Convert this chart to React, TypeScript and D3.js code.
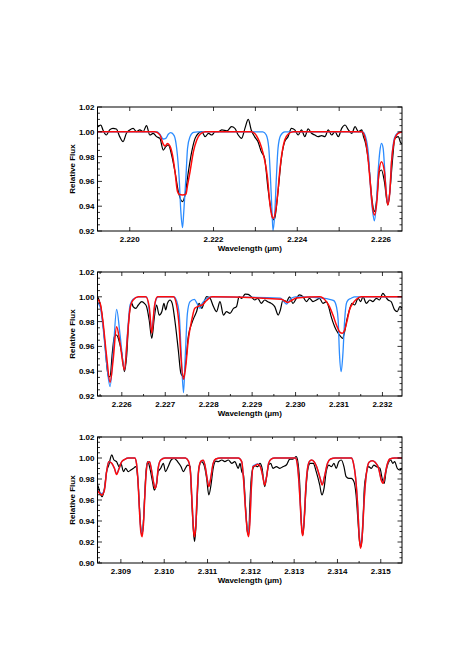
import React from "react";
import * as d3 from "d3";

type Pt = [number, number];

const width = 457;
const height = 646;
const frameLeft = 97.5;
const frameRight = 402;
const font = "'Liberation Sans', Arial, Helvetica, sans-serif";

// ---------------- panel 1 : 2.2192 - 2.2265 um ----------------
const xTicks1 = [2.22, 2.222, 2.224, 2.226];
const yTicks1 = [0.92, 0.94, 0.96, 0.98, 1.0, 1.02];

const observed1: Pt[] = [
  [2.21918, 1.003], [2.21924, 1.0041], [2.21931, 1.0055], [2.21936, 1.0015], [2.21944, 0.9974],
  [2.21952, 1.0015], [2.2196, 1.0028], [2.21968, 1.0023], [2.21976, 0.9961], [2.21984, 0.9921],
  [2.21992, 0.9988], [2.22, 1.0015], [2.22008, 1.0028], [2.22016, 1.0001], [2.22024, 1.0015],
  [2.22032, 1.0001], [2.2204, 1.005], [2.22048, 0.9974], [2.22056, 0.9988], [2.22064, 0.9961],
  [2.22072, 0.9947], [2.2208, 0.9853], [2.22086, 0.988], [2.22092, 0.9894], [2.221, 0.9813],
  [2.22108, 0.9679], [2.22116, 0.9518], [2.22126, 0.9437], [2.22132, 0.9491], [2.2214, 0.9679],
  [2.22148, 0.984], [2.22156, 0.9947], [2.22164, 0.9988], [2.22172, 1.0001], [2.2218, 0.9961],
  [2.22188, 0.9988], [2.22196, 0.9974], [2.22204, 1.0001], [2.22212, 1.0001], [2.2222, 1.0015],
  [2.22232, 1.0007], [2.22243, 1.0041], [2.22251, 1.0028], [2.22259, 0.9974], [2.22267, 0.9947],
  [2.22275, 1.0028], [2.22283, 1.01], [2.2229, 1.0015], [2.22298, 0.9961], [2.22306, 0.9921],
  [2.22314, 0.984], [2.22322, 0.9786], [2.2233, 0.9544], [2.22338, 0.9356], [2.22342, 0.929],
  [2.22346, 0.9302], [2.22354, 0.9518], [2.22362, 0.9786], [2.2237, 0.9921], [2.22378, 0.9961],
  [2.22386, 1.0028], [2.22394, 1.0015], [2.22402, 0.9974], [2.2241, 1.0015], [2.22418, 0.9961],
  [2.22426, 1.0023], [2.22434, 0.9988], [2.22442, 0.9974], [2.2245, 0.9961], [2.22458, 0.9969],
  [2.22466, 0.9961], [2.22474, 1.0015], [2.22482, 0.9974], [2.2249, 1.0001], [2.22498, 0.9961],
  [2.22506, 1.0028], [2.22514, 1.0055], [2.22522, 1.0015], [2.2253, 0.9988], [2.22538, 1.0041],
  [2.22546, 1.0001], [2.22554, 1.0015], [2.22558, 0.9961], [2.22562, 0.9921], [2.2257, 0.9759],
  [2.22578, 0.9464], [2.22584, 0.9356], [2.2259, 0.9464], [2.22596, 0.9679], [2.22601, 0.9692],
  [2.22608, 0.9598], [2.22616, 0.941], [2.22621, 0.9518], [2.22627, 0.9759], [2.22633, 0.9947],
  [2.22641, 0.9961], [2.22648, 0.9907], [2.22653, 0.9921],
];

const blue1: Pt[] = [
  [2.2192, 1.0], [2.22066, 1.0], [2.22074, 0.9969], [2.2208, 0.9942], [2.22086, 0.9947],
  [2.22092, 0.998], [2.22098, 0.9993], [2.22106, 0.9969], [2.22112, 0.9867], [2.22118, 0.9625],
  [2.22122, 0.9356], [2.22126, 0.9227], [2.22129, 0.9356], [2.22134, 0.9625], [2.22138, 0.9867],
  [2.22144, 0.9961], [2.22152, 0.9996], [2.22162, 1.0], [2.22318, 1.0], [2.22326, 0.9974],
  [2.22332, 0.9867], [2.22336, 0.9625], [2.2234, 0.9329], [2.22342, 0.9205], [2.22346, 0.9329],
  [2.2235, 0.9625], [2.22354, 0.9867], [2.2236, 0.9969], [2.2237, 1.0], [2.22556, 1.0],
  [2.22563, 0.9961], [2.2257, 0.9813], [2.22575, 0.9544], [2.2258, 0.9356], [2.22584, 0.9281],
  [2.22588, 0.9383], [2.22593, 0.9679], [2.22597, 0.984], [2.22601, 0.9907], [2.22605, 0.9867],
  [2.22609, 0.9679], [2.22613, 0.9491], [2.22616, 0.9424], [2.22621, 0.9518], [2.22625, 0.9759],
  [2.2263, 0.9921], [2.22635, 0.9974], [2.22643, 0.9995], [2.22655, 1.0],
];

const red1: Pt[] = [
  [2.2192, 1.0], [2.2206, 1.0], [2.22072, 0.9975], [2.2208, 0.99], [2.22084, 0.9885],
  [2.2209, 0.9905], [2.22096, 0.9885], [2.22102, 0.9813], [2.22108, 0.9679], [2.22114, 0.9518],
  [2.22118, 0.9496], [2.22126, 0.9491], [2.22134, 0.9496], [2.22138, 0.9571], [2.22144, 0.9679],
  [2.22152, 0.984], [2.2216, 0.9934], [2.22168, 0.998], [2.2218, 1.0], [2.2229, 1.0],
  [2.22298, 0.9988], [2.22306, 0.9947], [2.22314, 0.988], [2.22322, 0.9773], [2.22329, 0.9625],
  [2.22334, 0.9437], [2.2234, 0.9316], [2.22343, 0.9302], [2.22348, 0.9356], [2.22353, 0.9491],
  [2.22358, 0.9679], [2.22364, 0.984], [2.2237, 0.9934], [2.22378, 0.998], [2.2239, 1.0],
  [2.22554, 1.0], [2.22562, 0.9947], [2.22568, 0.9813], [2.22574, 0.9598], [2.22579, 0.941],
  [2.22584, 0.9329], [2.2259, 0.9437], [2.22595, 0.9679], [2.22601, 0.9759], [2.22608, 0.9679],
  [2.22612, 0.9518], [2.22616, 0.941], [2.22621, 0.9518], [2.22625, 0.9759], [2.22631, 0.9921],
  [2.22637, 0.9974], [2.22645, 0.9995], [2.22655, 1.0],
];

// ---------------- panel 2 : 2.2254 - 2.2325 um ----------------
const xTicks2 = [2.226, 2.227, 2.228, 2.229, 2.23, 2.231, 2.232];
const yTicks2 = [0.92, 0.94, 0.96, 0.98, 1.0, 1.02];

const observed2: Pt[] = [
  [2.22538, 1.0015], [2.22546, 0.9988], [2.22554, 0.9867], [2.22561, 0.9625], [2.22569, 0.9356],
  [2.22573, 0.9356], [2.22578, 0.9544], [2.22583, 0.9679], [2.22588, 0.9692], [2.22593, 0.9652],
  [2.226, 0.9544], [2.22606, 0.9397], [2.22611, 0.9518], [2.22616, 0.9813], [2.22623, 0.9947],
  [2.22626, 0.9921], [2.22632, 0.9907], [2.22638, 0.9934], [2.22646, 0.9961], [2.22652, 0.9947],
  [2.22657, 0.9921], [2.22663, 0.9813], [2.22669, 0.9665], [2.22675, 0.984], [2.2268, 0.9934],
  [2.22686, 0.9853], [2.22692, 0.988], [2.22697, 0.9947], [2.22701, 0.9894], [2.22705, 0.9947],
  [2.22711, 0.9974], [2.22716, 0.9947], [2.22722, 0.9813], [2.2273, 0.9571], [2.22736, 0.9383],
  [2.22742, 0.9356], [2.22747, 0.9464], [2.22753, 0.9679], [2.22761, 0.9786], [2.22767, 0.984],
  [2.22772, 0.988], [2.22778, 0.9947], [2.22784, 0.9907], [2.22791, 0.9974], [2.22795, 1.0001],
  [2.22803, 0.9988], [2.22811, 0.9921], [2.22818, 0.988], [2.22826, 0.9961], [2.22834, 0.9853],
  [2.22841, 0.988], [2.22849, 0.9867], [2.22857, 0.9907], [2.22864, 0.9921], [2.2287, 1.0001],
  [2.22876, 0.9988], [2.22884, 1.0022], [2.22891, 1.002], [2.22898, 1.0], [2.22906, 0.9974],
  [2.22913, 0.9988], [2.22921, 0.9947], [2.22929, 0.9974], [2.22936, 0.996], [2.22944, 0.9947],
  [2.22952, 0.9921], [2.2296, 0.9853], [2.22965, 0.9894], [2.22971, 0.9974], [2.22979, 0.9961],
  [2.22986, 1.0], [2.22994, 0.9947], [2.23002, 0.9988], [2.23009, 1.0015], [2.23017, 1.0001],
  [2.23025, 0.9961], [2.23032, 0.9988], [2.2304, 0.9961], [2.23048, 0.9974], [2.23055, 0.9988],
  [2.23063, 0.9947], [2.23071, 0.9961], [2.23076, 0.9921], [2.23082, 0.984], [2.2309, 0.9759],
  [2.23098, 0.9706], [2.23104, 0.9679], [2.23108, 0.9665], [2.23113, 0.9719], [2.23118, 0.9813],
  [2.23124, 0.9894], [2.2313, 0.9947], [2.23136, 0.9934], [2.23144, 0.9988], [2.2315, 0.9961],
  [2.23155, 1.0001], [2.23163, 0.9947], [2.23171, 0.9974], [2.23178, 0.9961], [2.23186, 0.9988],
  [2.23193, 0.9974], [2.23201, 1.0028], [2.23207, 1.0001], [2.23213, 0.9974], [2.2322, 0.9961],
  [2.23228, 0.9894], [2.23234, 0.988], [2.2324, 0.9921], [2.23246, 0.9907],
];

const blue2: Pt[] = [
  [2.22538, 0.997], [2.2255, 0.992], [2.22557, 0.9746], [2.22565, 0.9464], [2.22573, 0.9276],
  [2.2258, 0.9544], [2.22588, 0.9899], [2.22596, 0.9692], [2.22606, 0.941], [2.22613, 0.9706],
  [2.22619, 0.9934], [2.22626, 0.998], [2.22638, 1.0], [2.22657, 1.0], [2.22665, 0.984],
  [2.22669, 0.972], [2.22673, 0.984], [2.22678, 0.997], [2.22684, 1.0], [2.2272, 1.0],
  [2.22726, 0.9969], [2.22732, 0.9867], [2.22736, 0.96], [2.22742, 0.9227], [2.22746, 0.9518],
  [2.22751, 0.9867], [2.22757, 0.9961], [2.22767, 0.998], [2.22773, 0.9947], [2.2278, 0.9907],
  [2.22785, 0.9947], [2.22793, 0.998], [2.22803, 1.0], [2.22965, 0.999], [2.22973, 0.9961],
  [2.22979, 0.9942], [2.22984, 0.9961], [2.2299, 0.9988], [2.23, 1.0], [2.23067, 0.9988],
  [2.23078, 0.998], [2.23088, 0.9969], [2.23094, 0.9921], [2.23098, 0.9813], [2.23101, 0.9544],
  [2.23105, 0.9397], [2.23109, 0.9544], [2.23113, 0.9813], [2.23117, 0.9947], [2.23121, 0.9974],
  [2.23128, 0.9988], [2.23136, 1.0], [2.2325, 1.0],
];

const red2: Pt[] = [
  [2.22538, 1.0], [2.2255, 0.9947], [2.22557, 0.9786], [2.22565, 0.9518], [2.22573, 0.931],
  [2.2258, 0.9491], [2.22588, 0.9759], [2.22596, 0.9625], [2.22606, 0.941], [2.22613, 0.9679],
  [2.22619, 0.9907], [2.22626, 0.9974], [2.22638, 1.0], [2.22655, 1.0], [2.22663, 0.9921],
  [2.22669, 0.9706], [2.22675, 0.9921], [2.22682, 1.0], [2.22719, 1.0], [2.22726, 0.9934],
  [2.22732, 0.9759], [2.22736, 0.9518], [2.22742, 0.9335], [2.22747, 0.9437], [2.22753, 0.9652],
  [2.22761, 0.9813], [2.22768, 0.9907], [2.22778, 0.9926], [2.22785, 0.9934], [2.22795, 0.997],
  [2.22807, 1.0], [2.22967, 0.998], [2.22975, 0.9966], [2.22982, 0.9955], [2.2299, 0.9969],
  [2.23002, 0.999], [2.23055, 1.0], [2.23071, 0.9961], [2.23078, 0.9921], [2.23086, 0.9853],
  [2.23094, 0.9773], [2.23101, 0.9719], [2.23108, 0.9706], [2.23113, 0.9732], [2.23119, 0.9813],
  [2.23124, 0.9894], [2.23132, 0.9947], [2.2314, 0.998], [2.23151, 1.0], [2.2325, 1.0],
];

// ---------------- panel 3 : 2.3085 - 2.3155 um ----------------
const xTicks3 = [2.309, 2.31, 2.311, 2.312, 2.313, 2.314, 2.315];
const yTicks3 = [0.9, 0.92, 0.94, 0.96, 0.98, 1.0, 1.02];

const observed3: Pt[] = [
  [2.3084, 0.9711], [2.30846, 0.9743], [2.30852, 0.9663], [2.30857, 0.9632], [2.30862, 0.9711],
  [2.30867, 0.987], [2.30872, 0.9933], [2.30879, 1.0029], [2.30884, 0.9981], [2.3089, 0.9965],
  [2.30896, 0.9917], [2.309, 0.9949], [2.30906, 0.987], [2.30911, 0.9902], [2.30917, 0.987],
  [2.30923, 0.9886], [2.30929, 0.9902], [2.30934, 0.9917], [2.30939, 0.9806], [2.30943, 0.952],
  [2.30946, 0.933], [2.30949, 0.9267], [2.30952, 0.9394], [2.30955, 0.9648], [2.30958, 0.987],
  [2.30962, 0.9965], [2.30967, 0.9902], [2.30973, 0.9775], [2.30977, 0.9695], [2.30982, 0.9743],
  [2.30986, 0.987], [2.30992, 0.9902], [2.30998, 0.9949], [2.31003, 0.987], [2.31009, 0.9917],
  [2.31016, 0.9981], [2.31023, 0.9997], [2.31031, 0.9965], [2.31039, 0.9917], [2.31044, 0.987],
  [2.31049, 0.9902], [2.31054, 0.9933], [2.3106, 0.9917], [2.31063, 0.9648], [2.31067, 0.933],
  [2.3107, 0.9203], [2.31073, 0.933], [2.31076, 0.9584], [2.3108, 0.9902], [2.31086, 0.9965],
  [2.31092, 0.9933], [2.31098, 0.9806], [2.31103, 0.9648], [2.31108, 0.9743], [2.31113, 0.9902],
  [2.31119, 0.9971], [2.31125, 0.9965], [2.31133, 0.9981], [2.3114, 0.9965], [2.31148, 0.9981],
  [2.31156, 0.9949], [2.31163, 0.9965], [2.31171, 0.9902], [2.31175, 0.9949], [2.31179, 0.987],
  [2.31183, 0.9838], [2.31188, 0.952], [2.31192, 0.9298], [2.31195, 0.9267], [2.31198, 0.9584],
  [2.31201, 0.9806], [2.31205, 0.9902], [2.3121, 0.9927], [2.31216, 0.9917], [2.31221, 0.9949],
  [2.31226, 0.9902], [2.31232, 0.9727], [2.31237, 0.9838], [2.31241, 0.9933], [2.31246, 0.9949],
  [2.31251, 0.9902], [2.31259, 0.9917], [2.31267, 0.9902], [2.31274, 0.9917], [2.31282, 0.9933],
  [2.3129, 0.999], [2.31297, 0.999], [2.31305, 1.0013], [2.31309, 0.9949], [2.31313, 0.9743],
  [2.31316, 0.9425], [2.3132, 0.9267], [2.31324, 0.9457], [2.31328, 0.9743], [2.31332, 0.9902],
  [2.31337, 0.9949], [2.31344, 0.9949], [2.31351, 0.987], [2.31359, 0.9743], [2.31364, 0.9648],
  [2.31369, 0.9711], [2.31374, 0.987], [2.3138, 0.9933], [2.31386, 0.9917], [2.31392, 0.9949],
  [2.31397, 0.9902], [2.31403, 0.9965], [2.31409, 0.9981], [2.31415, 0.9917], [2.3142, 0.9822],
  [2.31426, 0.9806], [2.31432, 0.9806], [2.31438, 0.9775], [2.31443, 0.9648], [2.31447, 0.9425],
  [2.31451, 0.9203], [2.31454, 0.9155], [2.31458, 0.9298], [2.31462, 0.9711], [2.31466, 0.9838],
  [2.31472, 0.9917], [2.31478, 0.9902], [2.31484, 0.9933], [2.3149, 0.9917], [2.31498, 0.9902],
  [2.31504, 0.979], [2.31508, 0.9759], [2.31512, 0.987], [2.31517, 0.9949], [2.31523, 0.9981],
  [2.31528, 0.9949], [2.31532, 0.9965], [2.31538, 0.9902], [2.31543, 0.9886], [2.3155, 0.9902],
];

// both models of panel 3 share one wavelength grid
const modelWave3 = [
  2.3084, 2.30848, 2.30856, 2.30862, 2.30867, 2.30872, 2.30879, 2.30885, 2.3089, 2.30896,
  2.30902, 2.30909, 2.30917, 2.30932, 2.30936, 2.3094, 2.30943, 2.30946, 2.30949, 2.30952,
  2.30955, 2.30958, 2.30962, 2.30966, 2.3097, 2.30975, 2.30979, 2.30983, 2.30986, 2.30992,
  2.31002, 2.31049, 2.31056, 2.31061, 2.31065, 2.31068, 2.3107, 2.31073, 2.31076, 2.3108,
  2.31085, 2.3109, 2.31094, 2.31099, 2.31103, 2.31108, 2.31113, 2.31119, 2.3113, 2.31171,
  2.31179, 2.31183, 2.31188, 2.31192, 2.31195, 2.31198, 2.31201, 2.31205, 2.3121, 2.31216,
  2.31222, 2.31227, 2.31232, 2.31237, 2.31241, 2.31247, 2.31255, 2.31303, 2.31307, 2.31311,
  2.31315, 2.31318, 2.3132, 2.31323, 2.31326, 2.3133, 2.31335, 2.3134, 2.31346, 2.31352,
  2.31359, 2.31365, 2.3137, 2.31377, 2.31384, 2.31395, 2.31432, 2.31437, 2.31442, 2.31447,
  2.3145, 2.31453, 2.31456, 2.31459, 2.31463, 2.31468, 2.31473, 2.3148, 2.31487, 2.31495,
  2.31501, 2.31505, 2.31509, 2.31515, 2.31521, 2.31532, 2.31555,
];
const redFlux3 = [
  0.9743, 0.9679, 0.9648, 0.9695, 0.987, 0.9965, 0.9949, 0.9902, 0.9844, 0.9902,
  0.9965, 0.9987, 1.0, 1.0, 0.9949, 0.9743, 0.9489, 0.9298, 0.9251, 0.9362,
  0.9616, 0.9838, 0.9959, 0.9965, 0.9902, 0.9775, 0.9711, 0.9775, 0.9902, 0.9981,
  1.0, 1.0, 0.997, 0.9838, 0.952, 0.9298, 0.9251, 0.9362, 0.9648, 0.9902,
  0.997, 0.9978, 0.9933, 0.9806, 0.9727, 0.9822, 0.9949, 0.999, 1.0, 1.0,
  0.9965, 0.9806, 0.9489, 0.9298, 0.9251, 0.94, 0.97, 0.9917, 0.9927, 0.994,
  0.9917, 0.9838, 0.9743, 0.9838, 0.9949, 0.999, 1.0, 1.0, 0.9949, 0.9775,
  0.9489, 0.9298, 0.926, 0.9394, 0.9648, 0.987, 0.9965, 0.998, 0.9965, 0.9917,
  0.9822, 0.9743, 0.9822, 0.9949, 0.999, 1.0, 1.0, 0.9949, 0.9806, 0.952,
  0.9267, 0.914, 0.9203, 0.9394, 0.9679, 0.9886, 0.996, 0.9975, 0.996, 0.9902,
  0.979, 0.9759, 0.9822, 0.994, 0.999, 1.0, 1.0,
];
const blueFlux3 = [
  0.9743, 0.9685, 0.966, 0.97, 0.987, 0.9965, 0.9949, 0.9902, 0.985, 0.9902,
  0.9965, 0.9987, 1.0, 1.0, 0.9949, 0.975, 0.95, 0.932, 0.9285, 0.938,
  0.9625, 0.984, 0.9959, 0.9965, 0.9902, 0.978, 0.972, 0.978, 0.9902, 0.9981,
  1.0, 1.0, 0.997, 0.984, 0.953, 0.932, 0.929, 0.938, 0.9655, 0.9902,
  0.997, 0.9978, 0.9933, 0.981, 0.9735, 0.9825, 0.9949, 0.999, 1.0, 1.0,
  0.9965, 0.981, 0.95, 0.932, 0.929, 0.942, 0.9705, 0.9925, 0.9935, 0.9945,
  0.992, 0.984, 0.975, 0.984, 0.9949, 0.999, 1.0, 1.0, 0.9949, 0.978,
  0.95, 0.932, 0.929, 0.941, 0.9655, 0.987, 0.9965, 0.998, 0.9965, 0.9917,
  0.9825, 0.975, 0.9825, 0.9949, 0.999, 1.0, 1.0, 0.9949, 0.981, 0.953,
  0.929, 0.918, 0.923, 0.941, 0.9685, 0.9886, 0.996, 0.9975, 0.996, 0.9902,
  0.9795, 0.9765, 0.9825, 0.994, 0.999, 1.0, 1.0,
];

const red3: Pt[] = modelWave3.map((w, i) => [w, redFlux3[i]]);
const blue3: Pt[] = modelWave3.map((w, i) => [w, blueFlux3[i]]);

const panels = [
  {top: 107, bottom: 231, xDomain: [2.21923, 2.2265], yDomain: [0.92, 1.02], xTicks: xTicks1, tickStep: 0.001, yTicks: yTicks1, observed: observed1, blue: blue1, red: red1},
  {top: 272, bottom: 396, xDomain: [2.22544, 2.23245], yDomain: [0.92, 1.02], xTicks: xTicks2, tickStep: 0.0005, yTicks: yTicks2, observed: observed2, blue: blue2, red: red2},
  {top: 437, bottom: 563, xDomain: [2.30846, 2.31549], yDomain: [0.9, 1.02], xTicks: xTicks3, tickStep: 0.0005, yTicks: yTicks3, observed: observed3, blue: blue3, red: red3},
];

function stepValues(lo: number, hi: number, step: number) {
  const a = Math.ceil(lo / step - 1e-6);
  const b = Math.floor(hi / step + 1e-6);
  return d3.range(a, b + 1).map(i => i * step);
}

function Panel({p, idx}: {p: typeof panels[number]; idx: number}) {
  const x = d3.scaleLinear().domain(p.xDomain).range([frameLeft, frameRight]);
  const y = d3.scaleLinear().domain(p.yDomain).range([p.bottom, p.top]);
  const line = d3.line<Pt>()
    .x(d => x(d[0]))
    .y(d => y(d[1]))
    .curve(d3.curveMonotoneX);
  const clipId = `clip-${idx}`;
  const xMinor = stepValues(p.xDomain[0], p.xDomain[1], p.tickStep);
  const yMinor = stepValues(p.yDomain[0], p.yDomain[1], 0.005);
  const fmtX = d3.format(".3f");
  const fmtY = d3.format(".2f");
  const isMajorX = (v: number) => p.xTicks.some(t => Math.abs(t - v) < 1e-7);
  const isMajorY = (v: number) => p.yTicks.some(t => Math.abs(t - v) < 1e-7);
  const midY = (p.top + p.bottom) / 2;

  return (
    <g>
      <defs>
        <clipPath id={clipId}>
          <rect x={frameLeft} y={p.top} width={frameRight - frameLeft} height={p.bottom - p.top} />
        </clipPath>
      </defs>
      <g clipPath={`url(#${clipId})`} fill="none" strokeLinejoin="round">
        <path d={line(p.observed) ?? ""} stroke="#000" strokeWidth={1.2} />
        <path d={line(p.blue) ?? ""} stroke="#2b8cff" strokeWidth={1.3} />
        <path d={line(p.red) ?? ""} stroke="#ff0a0a" strokeWidth={1.5} />
      </g>
      {/* ticks on all four sides, IDL style */}
      <g stroke="#000" strokeWidth={0.8}>
        {xMinor.map((v, i) => {
          const len = isMajorX(v) || p.tickStep === 0.001 ? 4 : 2;
          return (
            <g key={`xt${i}`}>
              <line x1={x(v)} x2={x(v)} y1={p.bottom} y2={p.bottom - len} />
              <line x1={x(v)} x2={x(v)} y1={p.top} y2={p.top + len} />
            </g>
          );
        })}
        {yMinor.map((v, i) => {
          const len = isMajorY(v) ? 4.5 : 2.5;
          return (
            <g key={`yt${i}`}>
              <line x1={frameLeft} x2={frameLeft + len} y1={y(v)} y2={y(v)} />
              <line x1={frameRight} x2={frameRight - len} y1={y(v)} y2={y(v)} />
            </g>
          );
        })}
      </g>
      <rect x={frameLeft} y={p.top} width={frameRight - frameLeft} height={p.bottom - p.top}
        fill="none" stroke="#000" strokeWidth={1} />
      <g fontFamily={font} fontSize={8} fontWeight="bold" fill="#000">
        {p.xTicks.map(v => (
          <text key={`xl${v}`} x={x(v)} y={p.bottom + 11} textAnchor="middle">{fmtX(v)}</text>
        ))}
        {p.yTicks.map(v => (
          <text key={`yl${v}`} x={frameLeft - 3} y={y(v) + 3} textAnchor="end">{fmtY(v)}</text>
        ))}
        <text x={(frameLeft + frameRight) / 2} y={p.bottom + 20.2} textAnchor="middle">Wavelength (μm)</text>
        <text transform={`translate(75,${midY}) rotate(-90)`} textAnchor="middle">Relative Flux</text>
      </g>
    </g>
  );
}

export default function App() {
  return (
    <div style={{position: "absolute", left: 0, top: 0}}>
      <svg width={width} height={height} style={{display: "block", background: "#fff"}}>
        {panels.map((p, i) => <Panel key={i} p={p} idx={i} />)}
      </svg>
    </div>
  );
}
